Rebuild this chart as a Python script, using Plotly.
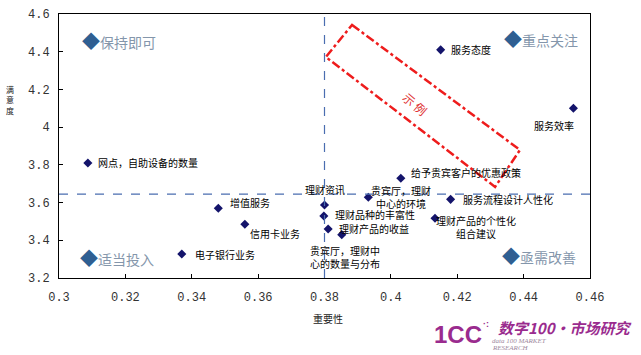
import plotly.graph_objects as go

# ---------------- data ----------------
names = [
    "网点，自助设备的数量", "服务态度", "服务效率", "给予贵宾客户的优惠政策",
    "增值服务", "信用卡业务", "电子银行业务", "贵宾厅，理财<br>中心的环境",
    "理财资讯", "理财品种的丰富性", "理财产品的收益", "贵宾厅，理财中<br>心的数量与分布",
    "服务流程设计人性化", "理财产品的个性化<br>组合建议",
]
importance = [0.3087, 0.415, 0.455, 0.403, 0.348, 0.356, 0.337, 0.3932,
              0.380, 0.3798, 0.3811, 0.3852, 0.418, 0.4133]
satisfaction = [3.81, 4.41, 4.10, 3.729, 3.570, 3.485, 3.327, 3.628,
                3.587, 3.529, 3.46, 3.430, 3.617, 3.517]

x_ticks = [0.3, 0.32, 0.34, 0.36, 0.38, 0.4, 0.42, 0.44, 0.46]
x_tick_text = ["0.3", "0.32", "0.34", "0.36", "0.38", "0.4", "0.42", "0.44", "0.46"]
y_ticks = [3.2, 3.4, 3.6, 3.8, 4.0, 4.2, 4.4, 4.6]
y_tick_text = ["3.2", "3.4", "3.6", "3.8", "4", "4.2", "4.4", "4.6"]

x_ref = 0.38     # mean importance line
y_ref = 3.645    # mean satisfaction line

quadrants = ["保持即可", "重点关注", "适当投入", "亟需改善"]

# label placement (styles, kept separate): xanchor, xshift, yshift, align
label_style = [
    ("left", 8, 0, "left"), ("left", 8, 0, "left"), ("right", 3, -17, "left"),
    ("left", 8, 6, "left"), ("left", 10, 6, "left"), ("left", 3, -9, "left"),
    ("left", 11, 0, "left"), ("center", 33, 0, "center"), ("center", 0, 16, "center"),
    ("left", 9, 1, "left"), ("left", 9, 0, "left"), ("left", -34, -22, "left"),
    ("left", 10, 0, "left"), ("center", 41, -9, "center"),
]

CJK = "Noto Sans CJK SC"
fig = go.Figure()

fig.add_trace(go.Scatter(
    x=importance, y=satisfaction, mode="markers",
    marker=dict(symbol="diamond", size=7, color="#14146b"),
    hoverinfo="text", text=names, showlegend=False,
))

for n, xv, yv, (xa, xs, ys, al) in zip(names, importance, satisfaction, label_style):
    fig.add_annotation(x=xv, y=yv, text=n, showarrow=False, xanchor=xa,
                       xshift=xs, yshift=ys, align=al,
                       font=dict(family=CJK, size=10, color="#000000"))

# reference lines
fig.add_shape(type="line", x0=x_ref, x1=x_ref, y0=3.2, y1=4.6, xref="x", yref="y",
              line=dict(color="#4a6db0", width=1.2, dash="dash"))
fig.add_shape(type="line", x0=0.3, x1=0.46, y0=y_ref, y1=y_ref, xref="x", yref="y",
              line=dict(color="#4a6db0", width=1.2, dash="dash"))

# example (示例) rotated box
fig.add_shape(type="path",
              path="M 0.3883 4.542 L 0.4389 3.879 L 0.4314 3.683 L 0.3804 4.372 Z",
              xref="x", yref="y", line=dict(color="#ee1c1c", width=2.5, dash="dashdot"))
fig.add_annotation(x=0.4073, y=4.125, text="示 例", showarrow=False, textangle=40,
                   font=dict(family=CJK, size=12, color="#e03030"))

# quadrant labels
q_pos = [(0.3063, 4.462, "left"), (0.457, 4.473, "right"),
         (0.3057, 3.312, "left"), (0.4564, 3.322, "right")]
for q, (qx, qy, qa) in zip(quadrants, q_pos):
    fig.add_annotation(x=qx, y=qy,
                       text="<span style='color:#2f5f92;font-size:18px'>◆</span>" + q,
                       showarrow=False, xanchor=qa,
                       font=dict(family=CJK, size=14, color="#8496ab"))

def px_x(p):
    return (p - 59) / 531

def px_y(p):
    return (278 - p) / 264

# axis titles
fig.add_annotation(xref="paper", yref="paper", x=px_x(328), y=px_y(318),
                   xanchor="center", yanchor="middle",
                   text="重要性", showarrow=False, font=dict(family=CJK, size=10, color="#222"))
fig.add_annotation(xref="paper", yref="paper", x=px_x(9.5), y=px_y(100),
                   xanchor="center", yanchor="middle",
                   text="满<br>意<br>度", showarrow=False,
                   font=dict(family=CJK, size=8, color="#222"))

# logo
LOGO = "#9a2b8e"
fig.add_annotation(xref="paper", yref="paper", x=px_x(432), y=px_y(334),
                   xanchor="left", yanchor="middle", text="<b>1CC</b>", showarrow=False,
                   font=dict(family="Liberation Sans", size=24, color=LOGO))
fig.add_annotation(xref="paper", yref="paper", x=px_x(481), y=px_y(324),
                   xanchor="left", yanchor="middle", text="<b>·:</b>", showarrow=False,
                   font=dict(family="Liberation Sans", size=9, color=LOGO))
fig.add_annotation(xref="paper", yref="paper", x=px_x(496), y=px_y(327),
                   xanchor="left", yanchor="middle", text="<b><i>数字100·市场研究</i></b>",
                   showarrow=False, font=dict(family=CJK, size=15, color=LOGO))
fig.add_annotation(xref="paper", yref="paper", x=px_x(490), y=px_y(341),
                   xanchor="left", yanchor="middle", text="<i>data 100 MARKET</i>",
                   showarrow=False,
                   font=dict(family="Liberation Serif", size=7, color="#a08aa0"))
fig.add_annotation(xref="paper", yref="paper", x=px_x(490), y=px_y(348),
                   xanchor="left", yanchor="middle", text="<i>RESEARCH</i>",
                   showarrow=False,
                   font=dict(family="Liberation Serif", size=7, color="#a08aa0"))

axis_common = dict(showgrid=False, zeroline=False, showline=True, linecolor="#000",
                   linewidth=1, mirror=True, ticks="inside", ticklen=4, tickcolor="#000",
                   automargin=False,
                   tickfont=dict(family="Liberation Mono", size=12, color="#333"))
fig.update_xaxes(range=[0.3, 0.46], tickvals=x_ticks, ticktext=x_tick_text,
                 ticklabelstandoff=8, **axis_common)
fig.update_yaxes(range=[3.2, 4.6], tickvals=y_ticks, ticktext=y_tick_text,
                 ticklabelstandoff=6, **axis_common)

fig.update_layout(width=641, height=355, margin=dict(l=59, r=51, t=14, b=77),
                  plot_bgcolor="white", paper_bgcolor="white")

fig.write_html("out.html", config={"displayModeBar": False},
               post_script="document.body.style.margin='0';document.body.style.overflow='hidden';")
